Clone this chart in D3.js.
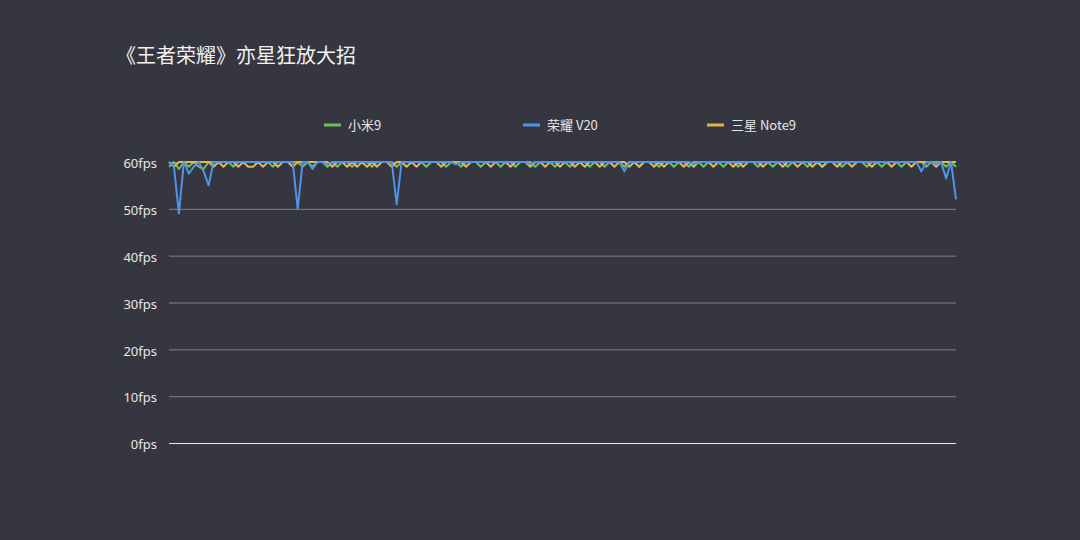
<!DOCTYPE html>
<html>
<head lang="zh">
    <meta charset="UTF-8">
    <title>王者荣耀 帧率</title>
    <script type="text/javascript" src="https://d3js.org/d3.v7.min.js"></script>
    <style type="text/css">
        html, body { margin: 0; padding: 0; background: #363641; }
        svg { display: block; font-family: "Noto Sans CJK SC", "Noto Sans", sans-serif; }
        .title { fill: #f2f2f2; font-size: 20px; }
        .legend text { fill: #e6e6e6; font-size: 13px; }
        .axis text { fill: #e6e6e6; font-size: 13px; font-family: "Noto Sans", sans-serif; }
        .grid line { stroke: #80808c; stroke-width: 1; }
        .line { fill: none; stroke-width: 2; stroke-linejoin: round; }
    </style>
</head>
<body>
<script type="text/javascript">
    var W = 1080, H = 540;

    var series = ["小米9", "荣耀 V20", "三星 Note9"];
    var colors = ["#67c35a", "#4f94e8", "#e3b54c"];
    var yTicks = [0, 10, 20, 30, 40, 50, 60];

    var xiaomi9 = [
        59,60,58.5,60,59,60,59,58.5,60,60,60,60,60,59,60,60,60,60,60,60,
        60,59,60,60,60,60,60,59,60,59,60,60,59,60,59,60,60,59,60,60,
        60,59,60,60,60,60,59,60,60,60,60,60,59,60,60,60,59,60,60,59,
        60,60,60,59,60,60,60,59,60,60,59,60,60,60,59,60,60,60,59,60,
        60,59,60,60,60,59,60,60,59,60,60,60,59,60,60,59,60,60,60,59,
        60,60,59,60,60,59,60,60,59,60,60,60,59,60,60,59,60,60,60,59,
        60,60,59,60,60,59,60,60,60,59,60,60,59,60,60,60,59,60,60,60,
        60,59,60,60,59,60,60,60,59,60,60,60,60,59,60,60,60,59,60,59
    ];
    var honorV20 = [
        60,59,49,60,57.5,59,60,58,55,60,60,60,60,60,60,60,60,60,60,60,
        60,60,60,60,60,60,50,60,60,58.5,60,60,59.5,60,60,60,60,60,60,60,
        60,60,60,60,60,60,51,60,60,60,60,60,60,60,60,60,60,60,59.5,60,
        60,60,60,60,60,60,60,60,60,60,60,60,60,59.5,60,60,60,60,60,60,
        60,60,60,60,60,60,60,60,60,60,60,60,58,60,60,60,60,60,60,60,
        60,60,60,60,60,60,59.5,60,60,60,60,60,60,60,60,60,60,60,60,60,
        60,60,60,60,60,60,60,60,60,60,60,60,60,60,60,60,60,60,60,60,
        60,60,60,60,60,60,60,60,60,60,60,60,58,60,60,59.5,60,56.5,60,52
    ];
    var note9 = [
        60,59,60,60,60,60,60,60,60,59,60,59,60,60,59,60,59,59,60,59,
        60,60,59,60,60,59,60,60,60,60,60,60,60,59,60,60,59,60,59,60,
        59,60,59,60,60,59,60,60,59,60,59,60,60,60,60,59,60,60,60,60,
        59,60,60,60,60,59,60,60,60,59,60,60,60,59,60,60,59,60,60,59,
        60,60,59,60,59,60,60,59,60,60,59,60,60,59,60,59,60,60,59,60,
        59,60,60,60,59,60,59,60,60,60,59,60,60,60,59,60,59,60,60,60,
        59,60,60,60,59,60,60,59,60,60,59,60,59,60,60,59,60,60,59,60,
        60,60,59,60,60,60,59,60,60,60,59,60,60,60,60,59,60,60,60,60
    ];

    var svg = d3.select("body").append("svg").attr("width", W).attr("height", H);

    svg.append("text").attr("class", "title")
        .attr("x", 116).attr("y", 63)
        .text("《王者荣耀》亦星狂放大招");

    var x = d3.scaleLinear().domain([0, xiaomi9.length - 1]).range([169, 956]);
    var y = d3.scaleLinear().domain([0, 60]).range([443, 162]);

    // grid
    var grid = svg.append("g").attr("class", "grid");
    grid.selectAll("line").data(yTicks).enter().append("line")
        .attr("x1", 169).attr("x2", 956)
        .attr("y1", function(d){ return y(d) + 0.5; })
        .attr("y2", function(d){ return y(d) + 0.5; })
        .style("stroke", function(d){ return d === 0 ? "#e8e8ee" : null; });

    // y axis labels
    var yAxis = d3.axisLeft(y).tickValues(yTicks)
        .tickFormat(function(d){ return d + "fps"; })
        .tickSize(0).tickPadding(0);
    svg.append("g").attr("class", "axis")
        .attr("transform", "translate(157,1.5)")
        .call(yAxis)
        .call(function(g){ g.select(".domain").remove(); });

    // lines
    var line = d3.line()
        .x(function(d, i){ return x(i); })
        .y(function(d){ return y(d); });

    var order = [[xiaomi9, 0], [note9, 2], [honorV20, 1]];
    svg.selectAll("path.line").data(order).enter().append("path")
        .attr("class", "line")
        .attr("stroke", function(d){ return colors[d[1]]; })
        .attr("d", function(d){ return line(d[0]); });

    // legend
    var legX = [324, 523, 707];
    var leg = svg.append("g").attr("class", "legend")
        .selectAll("g").data(series).enter().append("g")
        .attr("transform", function(d, i){ return "translate(" + legX[i] + ",125)"; });
    leg.append("rect").attr("x", 0).attr("y", -1.5).attr("width", 17).attr("height", 3)
        .attr("fill", function(d, i){ return colors[i]; });
    leg.append("text").attr("x", 24).attr("y", 4.5).text(function(d){ return d; });
</script>
</body>
</html>
